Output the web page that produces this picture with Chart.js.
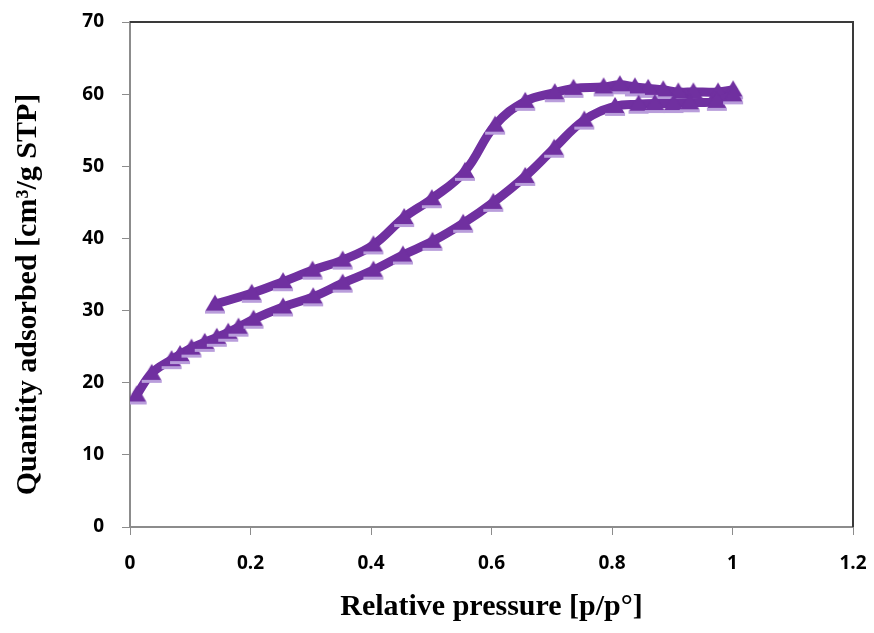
<!DOCTYPE html>
<html>
<head>
<meta charset="utf-8">
<script src="https://cdn.jsdelivr.net/npm/chart.js@4.4.1/dist/chart.umd.min.js"></script>
<style>
  html, body { margin: 0; padding: 0; background: #fff; }
  #wrap { width: 874px; height: 633px; }
</style>
</head>
<body>
<div id="wrap"><canvas id="isotherm" width="874" height="633"></canvas></div>
<script>
// ===== Data =====
const adsP = [0.011, 0.036, 0.069, 0.083, 0.102, 0.124, 0.144, 0.163, 0.180, 0.205,
              0.254, 0.304, 0.353, 0.404, 0.453, 0.502, 0.553, 0.603, 0.656, 0.704,
              0.754, 0.805, 0.844, 0.871, 0.902, 0.929, 0.974, 1.001];
const adsQ = [18.3, 21.3, 23.2, 23.9, 24.8, 25.6, 26.3, 27.0, 27.7, 28.8,
              30.5, 31.9, 33.8, 35.6, 37.7, 39.6, 42.1, 45.0, 48.6, 52.5,
              56.4, 58.3, 58.6, 58.7, 58.7, 58.8, 59.0, 59.9];

const desP = [1.001, 0.976, 0.935, 0.910, 0.885, 0.860, 0.838, 0.813, 0.786, 0.736,
              0.705, 0.656, 0.606, 0.556, 0.501, 0.455, 0.404, 0.353, 0.303, 0.254,
              0.202, 0.141];
const desQ = [60.6, 60.3, 60.3, 60.3, 60.6, 60.8, 61.0, 61.3, 61.0, 60.8,
              60.2, 59.0, 55.7, 49.3, 45.5, 42.9, 39.1, 37.0, 35.6, 34.0,
              32.4, 30.9];

const xTicks = [0, 0.2, 0.4, 0.6, 0.8, 1, 1.2];
const yTicks = [0, 10, 20, 30, 40, 50, 60, 70];

const xTitle = 'Relative pressure [p/p°]';
const yTitle = 'Quantity adsorbed [cm³/g STP]';

// ===== Styles =====
const purple = '#7030A0';
const lilac = '#b99ddb';
const axisGrey = '#8c8c8c';
const tickFont = { family: "'Open Sans', sans-serif", size: 19, weight: 'bold' };
const titleFont = { family: "'Liberation Serif', 'Times New Roman', serif", size: 30, weight: 'bold' };

// triangle marker with the light strip under it
function makeMarker() {
  const c = document.createElement('canvas');
  c.width = 22; c.height = 21;
  const g = c.getContext('2d');
  g.fillStyle = purple;
  g.beginPath();
  g.moveTo(11, 1);
  g.lineTo(20.5, 17);
  g.lineTo(1.5, 17);
  g.closePath();
  g.fill();
  g.fillStyle = lilac;
  g.fillRect(1, 17, 20, 3);
  return c;
}
const marker = makeMarker();

const toXY = (xs, ys) => xs.map((x, i) => ({ x: x, y: ys[i] }));

// ===== Frame (top + right border) and y title (Excel puts it a bit low) =====
const framePlugin = {
  id: 'frame',
  afterDraw(chart) {
    const { ctx, chartArea: a } = chart;
    ctx.save();
    ctx.strokeStyle = '#3a3a3a';
    ctx.lineWidth = 2;
    ctx.beginPath();
    ctx.moveTo(a.left, a.top);
    ctx.lineTo(a.right, a.top);
    ctx.lineTo(a.right, a.bottom);
    ctx.stroke();

    ctx.translate(28, (a.top + a.bottom) / 2 + 20);
    ctx.rotate(-Math.PI / 2);
    ctx.font = 'bold 30px "Liberation Serif", "Times New Roman", serif';
    ctx.fillStyle = '#000';
    ctx.textAlign = 'center';
    ctx.textBaseline = 'middle';
    ctx.fillText(yTitle, 0, 0);
    ctx.restore();
  }
};

function lineSet(label, data) {
  return {
    label: label,
    data: data,
    showLine: true,
    borderColor: purple,
    borderWidth: 9,
    borderCapStyle: 'round',
    borderJoinStyle: 'round',
    tension: 0.4,
    pointStyle: marker,
    pointRadius: 10,
    pointHoverRadius: 10
  };
}

new Chart(document.getElementById('isotherm'), {
  type: 'scatter',
  data: {
    datasets: [
      lineSet('Adsorption', toXY(adsP, adsQ)),
      lineSet('Desorption', toXY(desP, desQ))
    ]
  },
  options: {
    responsive: false,
    animation: false,
    devicePixelRatio: 1,
    layout: { padding: { left: 0, top: 22, right: 21, bottom: 0 } },
    plugins: { legend: { display: false }, tooltip: { enabled: false } },
    scales: {
      x: {
        type: 'linear',
        min: 0, max: 1.2,
        afterBuildTicks: (s) => { s.ticks = xTicks.map(v => ({ value: v })); },
        afterFit: (s) => { s.height = 106; s.paddingLeft = 0; s.paddingRight = 0; },
        border: { color: axisGrey, width: 2 },
        grid: { drawOnChartArea: false, drawTicks: true, tickLength: 8, color: axisGrey, lineWidth: 1 },
        ticks: { color: '#000', font: tickFont, padding: 17, maxRotation: 0,
                 callback: (v) => String(v) },
        title: { display: true, text: xTitle, color: '#000', font: titleFont,
                 padding: { top: 0, bottom: 8 } }
      },
      y: {
        type: 'linear',
        min: 0, max: 70,
        afterBuildTicks: (s) => { s.ticks = yTicks.map(v => ({ value: v })); },
        afterFit: (s) => { s.width = 130; s.paddingTop = 0; s.paddingBottom = 0; },
        border: { color: axisGrey, width: 2 },
        grid: { drawOnChartArea: false, drawTicks: true, tickLength: 8, color: axisGrey, lineWidth: 1 },
        ticks: { color: '#000', font: tickFont, padding: 18,
                 callback: (v) => String(v) },
        title: { display: false }
      }
    }
  },
  plugins: [framePlugin]
});
</script>
</body>
</html>
